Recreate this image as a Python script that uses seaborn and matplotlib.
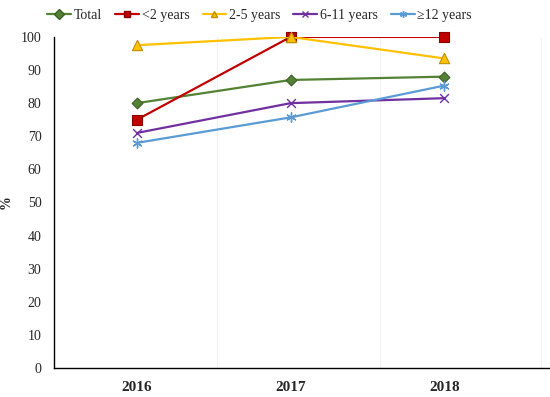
import matplotlib
matplotlib.use("Agg")
import matplotlib.pyplot as plt
import seaborn as sns
import pandas as pd
import numpy as np

years = ["2016", "2017", "2018"]
groups = ["Total", "<2 years", "2-5 years", "6-11 years", "\u226512 years"]
total = [80.0, 87.0, 88.0]
under2 = [75.0, 100.0, 100.0]
y2_5 = [97.5, 100.0, 93.5]
y6_11 = [71.0, 80.0, 81.5]
over12 = [68.0, 75.7, 85.3]

colors = ["#548235", "#C00000", "#FFC000", "#7030A0", "#5B9BD5"]
markers = ["D", "s", "^", "x", (6, 2, 0)]
edge = ["#3B5E25", "#8B0000", "#C09000", "#7030A0", "#5B9BD5"]
msize = [30, 55, 55, 40, 45]

df = pd.DataFrame({
    "x": np.tile(np.arange(len(years)), len(groups)),
    "value": total + under2 + y2_5 + y6_11 + over12,
    "group": np.repeat(groups, len(years)),
})

sns.set_style("white")
plt.rcParams["font.family"] = ["Liberation Serif", "DejaVu Serif"]

fig = plt.figure(figsize=(5.5, 3.97), dpi=100)
ax = fig.add_axes([0.098, 0.073, 0.9, 0.834])

# faint separators like the original
for xv in [0.524, 1.58, 2.63]:
    ax.axvline(xv, color="#F2F2F2", lw=0.8, zorder=0)

handles = []
for i, g in enumerate(groups):
    sub = df[df["group"] == g]
    sns.lineplot(data=sub, x="x", y="value", ax=ax, color=colors[i], lw=1.6,
                 legend=False, zorder=2 + i)
    sns.scatterplot(data=sub, x="x", y="value", ax=ax, color=colors[i],
                    marker=markers[i], s=msize[i], edgecolor=edge[i],
                    linewidth=0.8 if i < 3 else 1.0, legend=False,
                    zorder=3 + i, clip_on=False)
    handles.append(plt.Line2D([], [], color=colors[i], lw=1.6, marker=markers[i],
                              markersize=5, markeredgecolor=edge[i], label=g))

ax.set_xlim(-0.54, 2.68)
ax.set_ylim(0, 100)
ax.set_yticks(range(0, 101, 10))
ax.set_xticks(range(len(years)))
ax.set_xticklabels(years, fontweight="bold", fontsize=11)
ax.tick_params(axis="y", labelsize=10, length=0, pad=9)
ax.tick_params(axis="x", length=0, pad=9)
ax.set_xlabel("")
ax.set_ylabel("%", fontsize=10, fontweight="bold")
ax.yaxis.set_label_coords(-0.084, 0.5)

for s in ["top", "right"]:
    ax.spines[s].set_visible(False)
for s in ["left", "bottom"]:
    ax.spines[s].set_color("black")
    ax.spines[s].set_linewidth(1.0)

fig.legend(handles=handles, loc="upper center", bbox_to_anchor=(0.472, 1.01),
           ncol=5, frameon=False, fontsize=10, handlelength=1.7,
           handletextpad=0.2, columnspacing=0.95)

fig.savefig("out.png", dpi=100)
